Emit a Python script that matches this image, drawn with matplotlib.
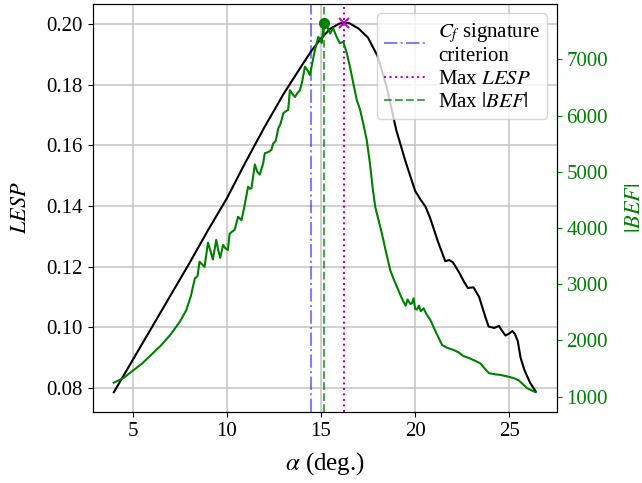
import matplotlib
matplotlib.use("Agg")
import matplotlib.pyplot as plt
import numpy as np

plt.rcParams['font.family'] = ['Liberation Serif', 'DejaVu Serif']
plt.rcParams['mathtext.fontset'] = 'stix'

# LESP curve
lesp_alpha = [4.0, 5.0, 6.0, 7.0, 8.0, 9.0, 10.0, 11.0, 12.0, 13.0, 14.0, 14.5, 15.0,
              15.5, 16.0, 16.2, 16.5, 17.0, 17.5, 18.0, 18.5, 19.0, 19.5, 20.0, 20.3,
              20.55, 20.8, 21.2, 21.6, 21.8, 22.0, 22.3, 22.6, 22.8, 23.1, 23.4, 23.7,
              23.9, 24.2, 24.45, 24.6, 24.8, 25.0, 25.16, 25.3, 25.45, 25.6, 25.8, 26.1, 26.4]
lesp = [0.0786, 0.0892, 0.0998, 0.1104, 0.1210, 0.1320, 0.1425, 0.1545, 0.1660, 0.1768,
        0.1865, 0.1912, 0.1952, 0.1985, 0.2002, 0.2005, 0.2003, 0.1985, 0.1955, 0.1895,
        0.1790, 0.1650, 0.1545, 0.1450, 0.1420, 0.1398, 0.1360, 0.1285, 0.1218, 0.1222,
        0.1215, 0.1185, 0.1150, 0.1130, 0.1132, 0.1100, 0.1040, 0.1003, 0.0998, 0.1005,
        0.0990, 0.0973, 0.0980, 0.0988, 0.0978, 0.0955, 0.0900, 0.0860, 0.0818, 0.0789]

# |BEF| curve
bef_alpha = [4.0, 4.5, 5.0, 5.5, 6.0, 6.5, 7.0, 7.5, 7.85, 8.1, 8.3, 8.45, 8.55, 8.7, 8.82,
             9.0, 9.13, 9.26, 9.44, 9.55, 9.65, 9.8, 9.92, 10.06, 10.15, 10.3, 10.42, 10.6,
             10.78, 10.95, 11.13, 11.22, 11.31, 11.49, 11.62, 11.75, 11.93, 12.02, 12.2,
             12.37, 12.46, 12.6, 12.73, 12.85, 13.0, 13.15, 13.26, 13.35, 13.5, 13.62, 13.75,
             13.88, 14.0, 14.15, 14.3, 14.41, 14.55, 14.68, 14.86, 14.95, 15.04, 15.16, 15.3,
             15.48, 15.65, 15.83, 16.0, 16.19, 16.37, 16.55, 16.72, 16.9, 17.08, 17.25, 17.43,
             17.6, 17.75, 17.88, 18.05, 18.23, 18.45, 18.68, 18.85, 19.03, 19.2, 19.38, 19.5,
             19.6, 19.74, 19.83, 19.92, 20.0, 20.1, 20.2, 20.3, 20.45, 20.6, 20.8, 21.1,
             21.43, 21.7, 22.05, 22.3, 22.58, 22.85, 23.11, 23.3, 23.47, 23.7, 23.91, 24.2,
             24.54, 24.9, 25.24, 25.5, 25.7, 25.95, 26.2, 26.4]
bef = [1250, 1330, 1460, 1590, 1750, 1910, 2100, 2330, 2540, 2800, 3100, 3150, 3400, 3350,
       3310, 3740, 3600, 3440, 3790, 3600, 3470, 3700, 3640, 3610, 3900, 3940, 3970, 4200,
       4140, 4410, 4735, 4700, 4706, 5130, 5000, 4950, 5150, 5330, 5350, 5390, 5500, 5550,
       5770, 5850, 6040, 6080, 6100, 6450, 6380, 6330, 6400, 6450, 6600, 6870, 6800, 6720,
       6950, 7170, 7400, 7350, 7290, 7650, 7610, 7460, 7550, 7400, 7290, 7310, 7110, 6850,
       6570, 6280, 6100, 5850, 5565, 5150, 4700, 4380, 4150, 3910, 3580, 3250, 3100, 2960,
       2820, 2690, 2620, 2730, 2650, 2660, 2750, 2560, 2550, 2620, 2520, 2570, 2470, 2370,
       2150, 1920, 1870, 1830, 1790, 1720, 1690, 1650, 1620, 1590, 1500, 1420, 1400, 1387,
       1360, 1330, 1290, 1230, 1150, 1110, 1080]

cf_criterion = 14.47

fig = plt.figure(figsize=(6.42, 4.83), dpi=100)
ax = fig.add_axes([0.1444, 0.147, 0.7228, 0.8447])
ax2 = ax.twinx()

i_l = int(np.argmax(lesp))
i_b = int(np.argmax(bef))

ax.plot(lesp_alpha, lesp, color='k', lw=1.5)
ax2.plot(bef_alpha, bef, color='green', lw=1.5)

l1 = ax.axvline(cf_criterion, color='b', alpha=0.5, ls='-.', lw=1.5,
                label='$C_f$ signature\ncriterion')
l2 = ax.axvline(lesp_alpha[i_l], color='m', ls=':', lw=1.5, label='Max $LESP$')
l3 = ax.axvline(bef_alpha[i_b], color='g', alpha=0.7, ls='--', lw=1.5, label='Max $|BEF|$')
ax.plot(lesp_alpha[i_l], lesp[i_l], 'mx', ms=7, mew=1.5)
ax2.plot(bef_alpha[i_b], bef[i_b], 'o', color='green', ms=7)

ax.set_ylim(0.0721, 0.2066)
ax2.set_ylim(728, 7984)
ax.set_xlim(2.88, 27.52)
ax.set_xticks([5, 10, 15, 20, 25])
ax.set_yticks([0.08, 0.10, 0.12, 0.14, 0.16, 0.18, 0.20])
ax.grid(True, color='#c8c8c8', lw=1.2)
ax.set_axisbelow(True)

ax.tick_params(labelsize=15)
ax2.tick_params(axis='y', labelsize=15, colors='green')
ax.set_xlabel(r'$\alpha$ (deg.)', fontsize=18, labelpad=7)
ax.set_ylabel('$LESP$', fontsize=16, labelpad=11)
ax2.set_ylabel('$|BEF|$', fontsize=16, color='green', labelpad=13)

ax.legend(handles=[l1, l2, l3], loc='upper right', fontsize=15,
          handlelength=2.0, handletextpad=0.6, labelspacing=0.15,
          borderaxespad=0.45, borderpad=0.35)

fig.savefig('out.png', dpi=100)
